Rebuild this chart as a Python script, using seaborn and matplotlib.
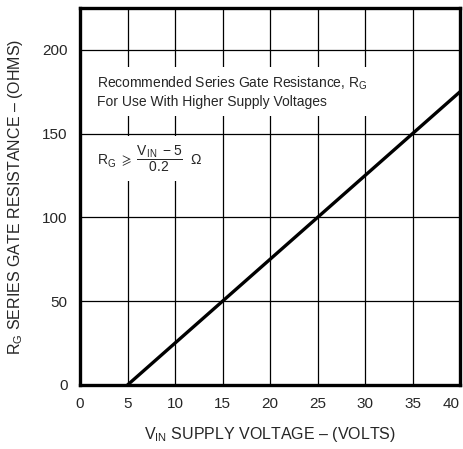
import numpy as np
import pandas as pd
import matplotlib
matplotlib.use('Agg')
import matplotlib.pyplot as plt
import seaborn as sns

# data
v_in = [5, 40]
r_g = [0, 175]
x_ticks = [0, 5, 10, 15, 20, 25, 30, 35, 40]
y_ticks = [0, 50, 100, 150, 200]

df = pd.DataFrame({'V_IN': v_in, 'R_G': r_g})

sns.set_style('white')
plt.rcParams['font.family'] = ['Liberation Sans', 'DejaVu Sans']
plt.rcParams['mathtext.fontset'] = 'custom'
plt.rcParams['mathtext.rm'] = 'Liberation Sans'
plt.rcParams['mathtext.it'] = 'Liberation Sans'
plt.rcParams['mathtext.sf'] = 'Liberation Sans'

fig = plt.figure(figsize=(4.63, 4.49), dpi=100)
ax = fig.add_axes([80/463, 1 - 385/449, 380/463, 377/449])

sns.lineplot(x='V_IN', y='R_G', data=df, color='black', linewidth=2.4, ax=ax, zorder=4)

ax.set_xlim(0, 40)
ax.set_ylim(0, 225)
ax.set_xticks(x_ticks)
ax.set_yticks(y_ticks)
ax.tick_params(length=0, labelsize=11, pad=9)
ax.get_xticklabels()[-1].set_horizontalalignment('right')
ax.grid(True, color='black', linewidth=0.9)
for s in ax.spines.values():
    s.set_color('black')
    s.set_linewidth(2.4)

ax.set_xlabel('V$_{\\mathregular{IN}}$ SUPPLY VOLTAGE – (VOLTS)', fontsize=11.5, labelpad=10)
ax.set_ylabel('R$_{\\mathregular{G}}$ SERIES GATE RESISTANCE – (OHMS)', fontsize=11.5, labelpad=12)

ax.text(1.8, 185, 'Recommended Series Gate Resistance, R$_{\\mathregular{G}}$\nFor Use With Higher Supply Voltages',
        fontsize=10, va='top', ha='left', linespacing=1.2, zorder=3,
        bbox=dict(facecolor='white', edgecolor='none', pad=5))
ax.text(1.8, 135, r'R$_{\mathregular{G}}$ $\geqslant$ $\mathregular{\dfrac{V_{IN}\ -5}{0.2}}$  $\Omega$',
        fontsize=10, va='center', ha='left', zorder=3,
        bbox=dict(facecolor='white', edgecolor='none', pad=5))

plt.savefig('out.png', dpi=100)
